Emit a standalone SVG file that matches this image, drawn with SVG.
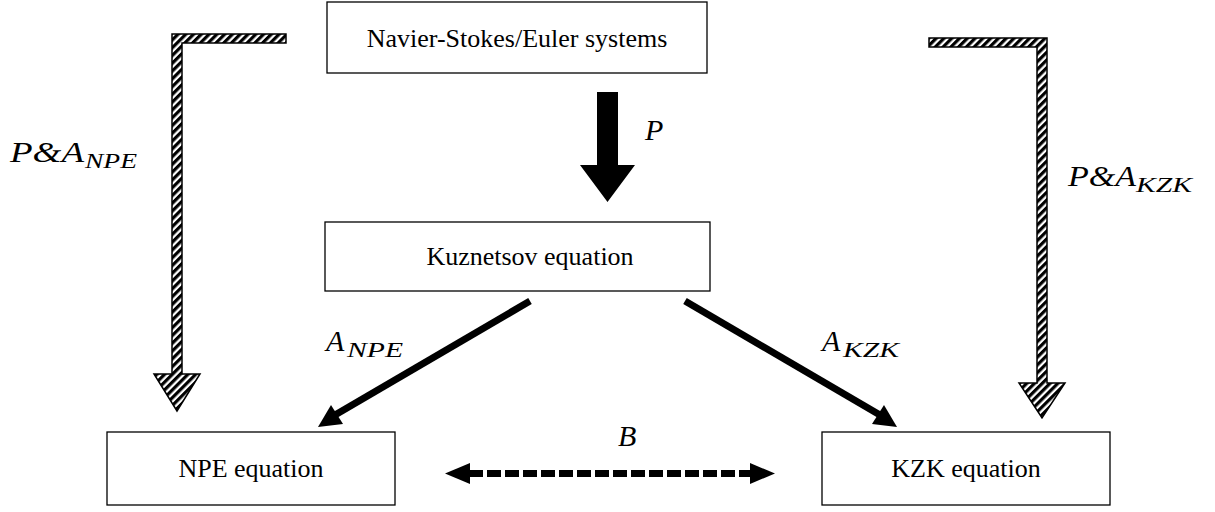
<svg xmlns="http://www.w3.org/2000/svg" width="1215" height="512" viewBox="0 0 1215 512">
<defs>
<pattern id="hatch" width="5.5" height="5.5" patternUnits="userSpaceOnUse" patternTransform="rotate(45)">
<rect width="5.5" height="5.5" fill="#fff"/>
<rect width="3.2" height="5.5" fill="#000"/>
</pattern>
</defs>
<style>
.box{fill:#fff;stroke:#000;stroke-width:1.3}
.h{fill:url(#hatch);stroke:#000;stroke-width:1.5}
</style>
<g id="node-ns"><rect class="box" x="327" y="2" width="380" height="71"/><text font-family="Liberation Serif, Times New Roman, DejaVu Serif, serif" font-size="26" text-anchor="middle" x="517" y="47">Navier-Stokes/Euler systems</text></g>
<g id="node-kuz"><rect class="box" x="325" y="222" width="385" height="69"/><text font-family="Liberation Serif, Times New Roman, DejaVu Serif, serif" font-size="26" text-anchor="middle" x="530" y="265">Kuznetsov equation</text></g>
<g id="node-npe"><rect class="box" x="107" y="432" width="288" height="73"/><text font-family="Liberation Serif, Times New Roman, DejaVu Serif, serif" font-size="26" text-anchor="middle" x="251" y="477">NPE equation</text></g>
<g id="node-kzk"><rect class="box" x="822" y="432" width="288" height="73"/><text font-family="Liberation Serif, Times New Roman, DejaVu Serif, serif" font-size="26" text-anchor="middle" x="966" y="477">KZK equation</text></g>
<g id="connectors">
<path class="h" d="M286,34 L172,34 L172,374 L154,374 L177,411 L200,374 L182,374 L182,43 L286,43 Z"/>
<path class="h" d="M929,38 L1047,38 L1047,383 L1065,383 L1042,418 L1019,383 L1037,383 L1037,47 L929,47 Z"/>
<path d="M597,92 L618,92 L618,165 L635,165 L607.5,202 L580,165 L597,165 Z" fill="#000"/>
<line x1="530" y1="301" x2="335" y2="415" stroke="#000" stroke-width="7"/>
<polygon points="318,427 331,405 343,424" fill="#000"/>
<line x1="685" y1="301" x2="880" y2="415" stroke="#000" stroke-width="7"/>
<polygon points="897,427 872,424 884,405" fill="#000"/>
<line x1="469" y1="473.5" x2="751" y2="473.5" stroke="#000" stroke-width="7" stroke-dasharray="14,4"/>
<polygon points="445,473.5 470,463 470,484" fill="#000"/>
<polygon points="775,473.5 750,463 750,484" fill="#000"/>
</g>
<g id="labels" font-family="Liberation Serif, Times New Roman, DejaVu Serif, serif" font-style="italic" font-size="30">
<text x="645" y="140">P</text>
<text x="10" y="162" textLength="74" lengthAdjust="spacingAndGlyphs">P&amp;A</text>
<text x="85" y="168" font-size="21" textLength="52" lengthAdjust="spacingAndGlyphs">NPE</text>
<text x="1068" y="186" textLength="68" lengthAdjust="spacingAndGlyphs">P&amp;A</text>
<text x="1136" y="192" font-size="21" textLength="56" lengthAdjust="spacingAndGlyphs">KZK</text>
<text x="326" y="351">A</text>
<text x="347" y="357" font-size="21" textLength="56" lengthAdjust="spacingAndGlyphs">NPE</text>
<text x="822" y="351">A</text>
<text x="843" y="357" font-size="21" textLength="56" lengthAdjust="spacingAndGlyphs">KZK</text>
<text x="618" y="446">B</text>
</g>
</svg>
